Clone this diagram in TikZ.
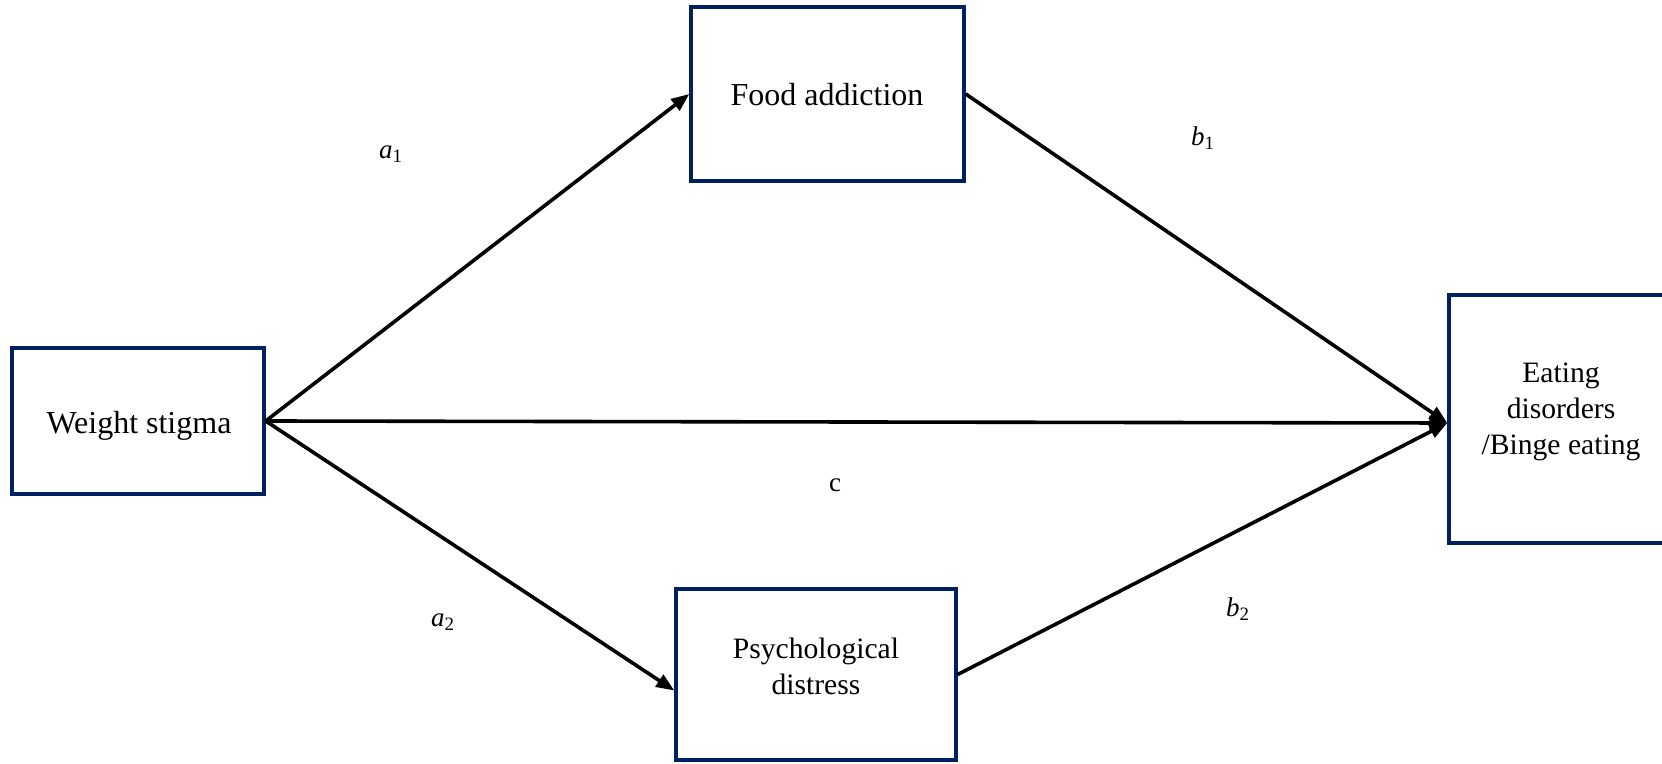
\documentclass[tikz,border=0pt]{standalone}
\usepackage{fontspec}
\setmainfont{Liberation Serif}
\usetikzlibrary{arrows.meta,calc}
\definecolor{navy}{RGB}{0,32,96}
\begin{document}
\begin{tikzpicture}[x=0.5pt,y=-0.5pt,
  box/.style={draw=navy, line width=1.7pt, fill=white, inner sep=0pt, anchor=center},
  arr/.style={line width=1.8pt, -{Triangle[length=9pt,width=7pt]}},
  lbl/.style={font=\fontsize{16}{18}\selectfont, align=center, inner sep=0pt},
  lbls/.style={font=\fontsize{14.8}{18}\selectfont, align=center, inner sep=0pt},
  coef/.style={font=\fontsize{13.5}{15}\selectfont, inner sep=0pt}]
\useasboundingbox (0,0) rectangle (1662,764);
\clip (0,0) rectangle (1662,764);
% boxes
\node[box, minimum width=126pt, minimum height=73pt] (W) at (138,421) {};
\node[box, minimum width=136.5pt, minimum height=87pt] (F) at (827.5,94) {};
\node[box, minimum width=140pt, minimum height=85.5pt] (P) at (816,674.5) {};
\node[box, minimum width=111.5pt, minimum height=124pt] (E) at (1560.5,419) {};
% texts
\node[lbl] (Wt) at (139,426) {Weight stigma};
\node[lbl] (Ft) at (827,95) {Food addiction};
\node[lbls] (Pt) at (816,666) {Psychological\\distress};
\node[lbls] (Et) at (1561,412) {Eating\\disorders\\/Binge eating};
% connectors
\draw[arr] (W.east) -- (F.west);
\draw[arr] (W.east) -- ($(P.west)+(0,16)$);
\draw[arr] (W.east) -- ($(E.west)+(0,4)$);
\draw[arr] (F.east) -- ($(E.west)+(0,4)$);
\draw[arr] (P.east) -- ($(E.west)+(0,4)$);
% path labels
\node[coef] (a1) at (391,154) {\textit{a}\textsubscript{1}};
\node[coef] (b1) at (1203,138) {\textit{b}\textsubscript{1}};
\node[coef] (c)  at (835,485) {c};
\node[coef] (a2) at (443,622) {\textit{a}\textsubscript{2}};
\node[coef] (b2) at (1238,609) {\textit{b}\textsubscript{2}};
\end{tikzpicture}
\end{document}
